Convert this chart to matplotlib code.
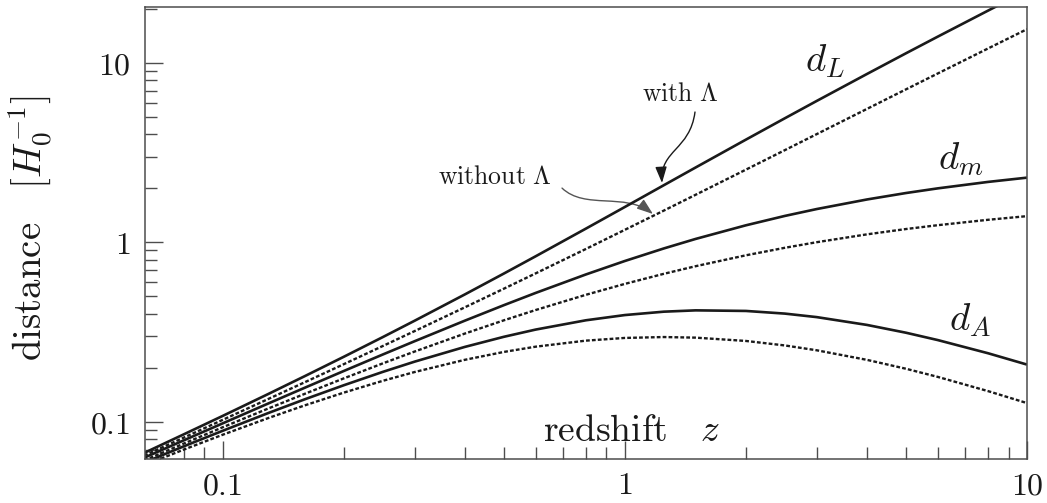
import numpy as np
import matplotlib
matplotlib.use("Agg")
import matplotlib.pyplot as plt
import matplotlib.ticker as mticker
from matplotlib.patches import FancyArrowPatch
from matplotlib.path import Path

plt.rcParams["mathtext.fontset"] = "cm"
plt.rcParams["font.family"] = "serif"

# ── Distances in units of H0^-1 ───────────────────────────────────────────────
z = [0.06, 0.08, 0.1, 0.13, 0.16, 0.2, 0.25, 0.3, 0.4, 0.5, 0.6, 0.8,
     1.0, 1.25, 1.5, 2.0, 2.5, 3.0, 4.0, 5.0, 6.0, 8.0, 10.0]

# with Lambda (solid)
dL_lam = [0.0628, 0.0850, 0.1077, 0.1429, 0.1794, 0.2299, 0.2959, 0.3650,
          0.5116, 0.6685, 0.8345, 1.190, 1.571, 2.077, 2.608, 3.727, 4.903,
          6.122, 8.652, 11.28, 13.97, 19.50, 25.18]
dm_lam = [0.0593, 0.0787, 0.0979, 0.1265, 0.1546, 0.1916, 0.2367, 0.2807,
          0.3654, 0.4457, 0.5216, 0.6611, 0.7857, 0.9230, 1.043, 1.242,
          1.401, 1.530, 1.730, 1.879, 1.995, 2.167, 2.289]
dA_lam = [0.0559, 0.0729, 0.0890, 0.1119, 0.1333, 0.1596, 0.1894, 0.2160,
          0.2610, 0.2971, 0.3260, 0.3673, 0.3928, 0.4102, 0.4172, 0.4141,
          0.4002, 0.3826, 0.3461, 0.3132, 0.2850, 0.2407, 0.2081]

# without Lambda (dotted)
dL_nol = [0.0609, 0.0815, 0.1024, 0.1340, 0.1659, 0.2091, 0.2639, 0.3196,
          0.4336, 0.5505, 0.6702, 0.9167, 1.172, 1.500, 1.838, 2.536, 3.258,
          4.000, 5.528, 7.101, 8.709, 12.00, 15.37]
dm_nol = [0.0574, 0.0755, 0.0931, 0.1186, 0.1430, 0.1743, 0.2112, 0.2459,
          0.3097, 0.3670, 0.4189, 0.5093, 0.5858, 0.6667, 0.7351, 0.8453,
          0.9310, 1.000, 1.106, 1.184, 1.244, 1.333, 1.397]
dA_nol = [0.0542, 0.0699, 0.0846, 0.1049, 0.1233, 0.1452, 0.1689, 0.1891,
          0.2212, 0.2447, 0.2618, 0.2829, 0.2929, 0.2963, 0.2940, 0.2818,
          0.2660, 0.2500, 0.2211, 0.1973, 0.1777, 0.1481, 0.1270]

ink = "#1a1a1a"
frame = "#4d4d4d"

fig = plt.figure(figsize=(10.47, 5.03), dpi=100)
fig.patch.set_facecolor("white")
ax = fig.add_axes([0.1382, 0.0875, 0.8427, 0.8976])

solid = dict(color=ink, lw=1.9, solid_capstyle="butt")
dotted = dict(color=ink, lw=1.7, ls=(0, (1.6, 0.9)))

for d in (dL_lam, dm_lam, dA_lam):
    ax.plot(z, d, **solid)
for d in (dL_nol, dm_nol, dA_nol):
    ax.plot(z, d, **dotted)

ax.set_xscale("log")
ax.set_yscale("log")
ax.set_xlim(0.064, 10)
ax.set_ylim(0.062, 20.3)

fmt = mticker.FuncFormatter(lambda v, _: rf"${v:g}$")
for axis in (ax.xaxis, ax.yaxis):
    axis.set_major_locator(mticker.LogLocator(base=10))
    axis.set_minor_locator(mticker.LogLocator(base=10, subs=np.arange(2, 10)))
    axis.set_major_formatter(fmt)
    axis.set_minor_formatter(mticker.NullFormatter())

ax.tick_params(which="both", direction="in", color=frame, width=1.0,
               top=False, right=False, labelsize=23, labelcolor=ink)
ax.tick_params(which="major", length=13)
ax.tick_params(which="minor", length=8.5)
ax.tick_params(axis="y", pad=10)
ax.tick_params(axis="x", pad=8)
for sp in ax.spines.values():
    sp.set_color(frame)
    sp.set_linewidth(1.1)

# axis labels
fig.text(30 / 1047, 1 - 228 / 503, r"$\mathrm{distance}\quad[H_0^{-1}]$",
         rotation=90, ha="center", va="center", fontsize=28, color=ink)
ax.text(0.551, 0.062, r"$\mathrm{redshift}\quad z$", transform=ax.transAxes,
        ha="center", va="center", fontsize=27, color=ink)

# curve names
ax.text(0.771, 0.880, r"$d_L$", transform=ax.transAxes, ha="center",
        va="center", fontsize=28, color=ink)
ax.text(0.925, 0.663, r"$d_m$", transform=ax.transAxes, ha="center",
        va="center", fontsize=28, color=ink)
ax.text(0.935, 0.308, r"$d_A$", transform=ax.transAxes, ha="center",
        va="center", fontsize=28, color=ink)

# pointers
ax.text(0.607, 0.810, r"$\mathrm{with}\ \Lambda$", transform=ax.transAxes,
        ha="center", va="center", fontsize=18.5, color=ink)
ax.text(0.397, 0.625, r"$\mathrm{without}\ \Lambda$", transform=ax.transAxes,
        ha="center", va="center", fontsize=18.5, color=ink)


def curved_arrow(pts, color):
    path = Path(pts, [Path.MOVETO, Path.CURVE4, Path.CURVE4, Path.CURVE4])
    arr = FancyArrowPatch(path=path, transform=ax.transAxes,
                          arrowstyle="-|>,head_length=0.7,head_width=0.25",
                          mutation_scale=14, color=color, lw=1.0)
    ax.add_patch(arr)


curved_arrow([(0.6237, 0.7685), (0.6181, 0.6844), (0.5841, 0.6844),
              (0.5863, 0.6113)], ink)
curved_arrow([(0.4730, 0.6000), (0.4991, 0.5513), (0.5444, 0.5912),
              (0.5761, 0.5426)], "#555555")

fig.savefig("out.png", dpi=100, facecolor="white")
